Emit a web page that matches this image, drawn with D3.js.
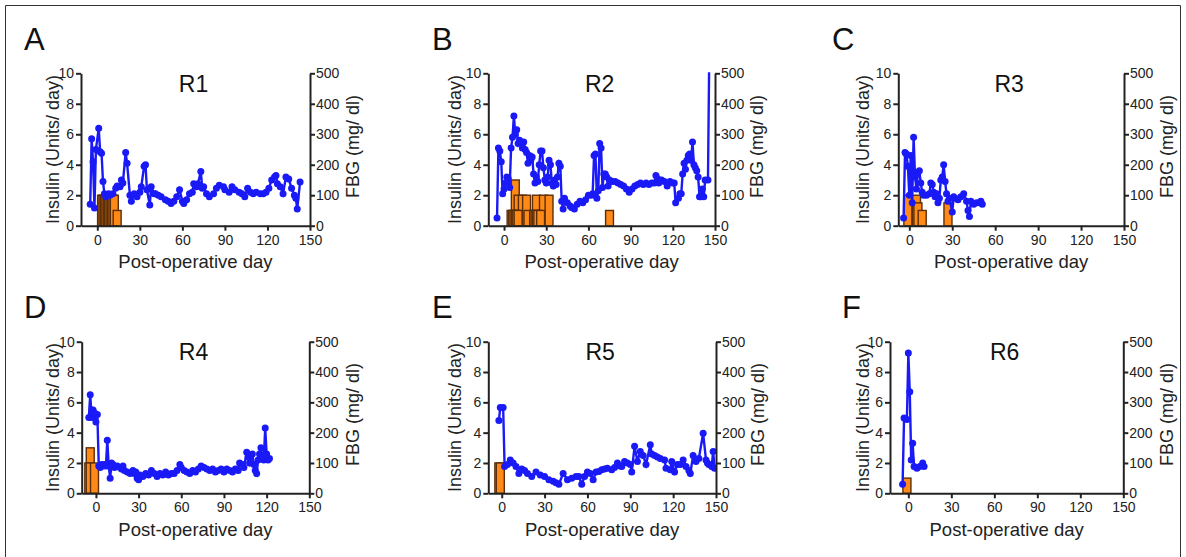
<!DOCTYPE html>
<html>
<head>
<meta charset="utf-8">
<script src="https://cdn.jsdelivr.net/npm/d3@7"></script>
<style>
  body { margin: 0; background: #fff; }
  svg { display: block; font-family: "Liberation Sans", Arial, Helvetica, sans-serif; }
</style>
</head>
<body>
<svg id="chart" width="1186" height="557"></svg>
<script>
// tick values shared by all six panels
var dayTicks = [0, 30, 60, 90, 120, 150];
var insulinTicks = [0, 2, 4, 6, 8, 10];
var fbgTicks = [0, 100, 200, 300, 400, 500];

// fasting blood glucose, [post-operative day, mg/dl]
var fbgR1 = [[-5,70],[-4,285],[-3,210],[-2,58],[-1,250],[1,320],[2,243],[3,238],[4,145],[5,105],[6,95],[8,105],[9,100],[11,105],[13,123],[14,130],[16,128],[17,150],[18,140],[20,240],[21,205],[23,100],[24,80],[26,105],[28,95],[30,110],[31,128],[33,195],[34,200],[35,118],[37,68],[38,128],[40,105],[41,105],[43,100],[45,95],[48,85],[50,80],[52,73],[54,80],[56,95],[58,118],[60,80],[61,73],[63,85],[65,105],[67,110],[68,138],[70,128],[71,138],[73,178],[74,123],[75,128],[77,105],[79,95],[82,105],[84,123],[86,133],[89,128],[90,118],[93,110],[95,128],[97,118],[100,110],[102,105],[104,95],[106,123],[108,110],[110,105],[112,110],[115,105],[117,105],[119,110],[121,123],[123,150],[125,160],[126,165],[127,138],[129,128],[131,105],[133,160],[135,153],[137,123],[139,100],[140,90],[141,55],[143,143]];
var fbgR2 = [[-5,25],[-4,255],[-3,245],[-2,210],[-1,105],[0,120],[1,140],[2,160],[3,155],[4,125],[5,255],[6,290],[7,360],[8,300],[9,315],[10,270],[11,280],[12,275],[13,255],[14,275],[15,250],[16,240],[17,205],[18,230],[19,215],[20,225],[21,170],[22,140],[23,160],[24,145],[25,200],[26,245],[27,245],[28,190],[29,150],[30,140],[31,160],[32,215],[33,200],[34,140],[35,130],[36,150],[37,135],[38,160],[39,205],[40,195],[41,80],[42,55],[43,90],[45,75],[47,65],[48,60],[50,55],[52,70],[54,80],[56,75],[58,85],[60,100],[62,100],[63,105],[64,230],[65,235],[66,90],[67,115],[68,270],[69,255],[70,125],[71,170],[72,170],[73,160],[74,130],[75,150],[77,145],[79,145],[81,140],[83,135],[85,130],[87,120],[89,110],[91,120],[93,130],[95,135],[97,140],[99,135],[101,140],[103,135],[105,140],[107,140],[108,165],[109,155],[110,140],[112,150],[114,145],[116,130],[118,145],[120,140],[121,140],[122,75],[124,90],[125,105],[126,105],[127,170],[128,205],[129,185],[130,215],[131,230],[132,235],[133,215],[134,275],[135,200],[136,190],[137,180],[138,160],[139,95],[140,95],[141,120],[142,95],[143,150],[145,150],[146,600]];
var fbgR3 = [[-4,25],[-3,240],[-2,235],[-1,195],[0,100],[1,230],[2,75],[3,290],[4,160],[5,120],[6,175],[7,180],[8,140],[9,110],[10,100],[12,100],[14,105],[15,140],[16,135],[17,110],[18,95],[19,105],[20,75],[21,90],[22,150],[23,160],[24,200],[25,145],[26,105],[27,80],[28,90],[30,45],[31,95],[32,90],[34,85],[36,95],[38,105],[40,80],[41,50],[42,30],[43,80],[45,70],[47,75],[49,75],[50,80],[51,70]];
var fbgR4 = [[-5,250],[-4,325],[-3,250],[-2,275],[-1,265],[0,235],[1,260],[2,90],[3,85],[4,95],[5,90],[6,95],[7,90],[8,175],[9,90],[10,50],[11,100],[12,95],[13,85],[15,90],[17,85],[18,80],[19,90],[20,75],[22,70],[24,65],[26,75],[27,65],[28,70],[29,50],[30,45],[31,60],[33,55],[35,65],[37,60],[39,75],[41,65],[43,55],[45,65],[47,60],[49,70],[51,60],[53,65],[55,65],[57,75],[59,95],[60,85],[62,75],[64,70],[66,65],[68,75],[70,70],[72,80],[74,90],[76,85],[78,80],[80,75],[82,80],[84,70],[86,75],[88,80],[90,70],[92,80],[94,75],[96,70],[98,80],[100,75],[101,100],[103,95],[104,85],[106,135],[107,120],[108,100],[110,130],[111,95],[112,75],[113,65],[114,110],[115,130],[116,150],[117,120],[118,110],[119,215],[120,130],[121,110],[122,115]];
var fbgR5 = [[-2,240],[-1,283],[1,283],[2,88],[4,95],[6,110],[8,100],[10,88],[12,65],[14,80],[16,75],[18,65],[21,55],[24,70],[27,60],[30,55],[33,45],[36,40],[38,35],[40,30],[43,65],[46,45],[49,50],[52,55],[54,55],[56,30],[58,55],[60,70],[62,65],[64,45],[66,70],[68,72],[70,78],[72,80],[74,83],[77,78],[79,85],[81,100],[83,90],[84,88],[86,105],[88,100],[90,95],[91,70],[93,155],[95,105],[97,138],[99,125],[101,95],[104,160],[105,130],[107,125],[109,120],[111,115],[114,110],[115,83],[118,78],[119,105],[121,70],[123,95],[125,95],[127,110],[129,88],[131,75],[132,65],[134,125],[136,105],[138,115],[141,198],[143,110],[144,100],[145,95],[147,88],[148,138],[149,83]];
var fbgR6 = [[-4,30],[-3,248],[-1,243],[0,463],[1,335],[2,110],[3,165],[4,88],[6,83],[8,88],[10,100],[11,88]];

// insulin dose, [post-operative day, units/day]
var insulinR1 = [[3,2],[4,2],[5,2],[6,2],[7,2],[8,2],[9,2],[10,2],[11,2],[12,2],[14,1]];
var insulinR2 = [[8,3],[10,2],[13,2],[16,2],[5,1],[6,1],[7,1],[8,1],[9,1],[10,1],[17,1],[23,2],[28,2],[32,2],[21,1],[22,1],[23,1],[24,1],[26,1],[75,1]];
var insulinR3 = [[-1,2],[5,2],[6,1.5],[9,1],[27,1.5]];
var insulinR4 = [[-4,3],[-5,2],[-4,2],[-1,2]];
var insulinR5 = [[-2,2],[-1,2]];
var insulinR6 = [[-1,1]];

var panels = [
  { letter: "A", title: "R1", fbg: fbgR1, insulin: insulinR1, left: 81, right: 310, top: 73.3, bottom: 225.7, xMin: -11.5, letterX: 24, leftLab: 53, rightLab: 353 },
  { letter: "B", title: "R2", fbg: fbgR2, insulin: insulinR2, left: 488.3, right: 715, top: 73.3, bottom: 225.7, xMin: -11.2, letterX: 432, leftLab: 455, rightLab: 757 },
  { letter: "C", title: "R3", fbg: fbgR3, insulin: insulinR3, left: 898.3, right: 1124, top: 73.3, bottom: 225.7, xMin: -7.7, letterX: 832, leftLab: 863, rightLab: 1167 },
  { letter: "D", title: "R4", fbg: fbgR4, insulin: insulinR4, left: 81.7, right: 309.3, top: 341.7, bottom: 493.3, xMin: -10, letterX: 24, leftLab: 53, rightLab: 353 },
  { letter: "E", title: "R5", fbg: fbgR5, insulin: insulinR5, left: 488.3, right: 716, top: 341.7, bottom: 493.3, xMin: -9.4, letterX: 432, leftLab: 455, rightLab: 758 },
  { letter: "F", title: "R6", fbg: fbgR6, insulin: insulinR6, left: 890, right: 1123.3, top: 341.7, bottom: 493.3, xMin: -12.8, letterX: 842, leftLab: 863, rightLab: 1167 }
];

var barWidth = 5.6; // days
var ink = "#222";
var blue = "#1a1af7";

var svg = d3.select("#chart");

// figure frame
svg.append("path")
  .attr("d", "M5.5,560V5.5H1180.5V560")
  .attr("fill", "none")
  .attr("stroke", "#333")
  .attr("stroke-width", 1);

panels.forEach(function(p, i) {
  var x = d3.scaleLinear().domain([p.xMin, 150]).range([p.left, p.right]);
  var yIns = d3.scaleLinear().domain([0, 10]).range([p.bottom, p.top]);
  var yFbg = d3.scaleLinear().domain([0, 500]).range([p.bottom, p.top]);

  var g = svg.append("g");

  svg.append("clipPath").attr("id", "clip" + i)
    .append("rect")
    .attr("x", p.left).attr("y", p.top - 1)
    .attr("width", p.right - p.left).attr("height", p.bottom - p.top + 1);

  var plot = g.append("g").attr("clip-path", "url(#clip" + i + ")");

  // insulin bars
  plot.selectAll("rect.bar")
    .data(p.insulin)
    .enter()
    .append("rect")
    .attr("class", "bar")
    .attr("x", function(d) { return x(d[0] - barWidth / 2); })
    .attr("width", function(d) { return x(d[0] + barWidth / 2) - x(d[0] - barWidth / 2); })
    .attr("y", function(d) { return yIns(d[1]); })
    .attr("height", function(d) { return yIns(0) - yIns(d[1]); })
    .attr("fill", "#ff8a17")
    .attr("stroke", "#5c2e0a")
    .attr("stroke-width", 1.4);

  // glucose line + markers
  var line = d3.line()
    .x(function(d) { return x(d[0]); })
    .y(function(d) { return yFbg(d[1]); });

  plot.append("path")
    .datum(p.fbg)
    .attr("d", line)
    .attr("fill", "none")
    .attr("stroke", blue)
    .attr("stroke-width", 2.4);

  plot.selectAll("circle")
    .data(p.fbg)
    .enter()
    .append("circle")
    .attr("cx", function(d) { return x(d[0]); })
    .attr("cy", function(d) { return yFbg(d[1]); })
    .attr("r", 3.5)
    .attr("fill", blue);

  // axes
  var xAxis = g.append("g")
    .attr("transform", "translate(0," + p.bottom + ")")
    .call(d3.axisBottom(x).tickValues(dayTicks).tickSize(5).tickPadding(4).tickSizeOuter(0));
  var yAxisL = g.append("g")
    .attr("transform", "translate(" + p.left + ",0)")
    .call(d3.axisLeft(yIns).tickValues(insulinTicks).tickSize(5).tickPadding(2).tickSizeOuter(0));
  var yAxisR = g.append("g")
    .attr("transform", "translate(" + p.right + ",0)")
    .call(d3.axisRight(yFbg).tickValues(fbgTicks).tickSize(5).tickPadding(1).tickSizeOuter(0));

  [xAxis, yAxisL, yAxisR].forEach(function(a) {
    a.select(".domain").attr("stroke", ink).attr("stroke-width", 2);
    a.selectAll(".tick line").attr("stroke", ink).attr("stroke-width", 2);
    a.selectAll(".tick text").attr("fill", ink).style("font-size", "14px");
  });

  // text
  g.append("text")
    .attr("x", p.letterX).attr("y", p.top - 23.5)
    .attr("fill", "#111")
    .style("font-size", "31px")
    .text(p.letter);

  g.append("text")
    .attr("x", (p.left + p.right) / 2 - 2).attr("y", p.top + 18.3)
    .attr("text-anchor", "middle")
    .attr("fill", "#111")
    .style("font-size", "23px")
    .text(p.title);

  g.append("text")
    .attr("x", (p.left + p.right) / 2).attr("y", p.bottom + 42.5)
    .attr("text-anchor", "middle")
    .attr("fill", ink)
    .style("font-size", "18.5px")
    .text("Post-operative day");

  var mid = (p.top + p.bottom) / 2;
  g.append("text")
    .attr("transform", "translate(" + p.leftLab + "," + mid + ") rotate(-90)")
    .attr("text-anchor", "middle")
    .attr("dy", "0.35em")
    .attr("fill", ink)
    .style("font-size", "18px")
    .text("Insulin (Units/ day)");

  g.append("text")
    .attr("transform", "translate(" + p.rightLab + "," + (mid - 3) + ") rotate(-90)")
    .attr("text-anchor", "middle")
    .attr("dy", "0.35em")
    .attr("fill", ink)
    .style("font-size", "18px")
    .text("FBG (mg/ dl)");
});
</script>
</body>
</html>
